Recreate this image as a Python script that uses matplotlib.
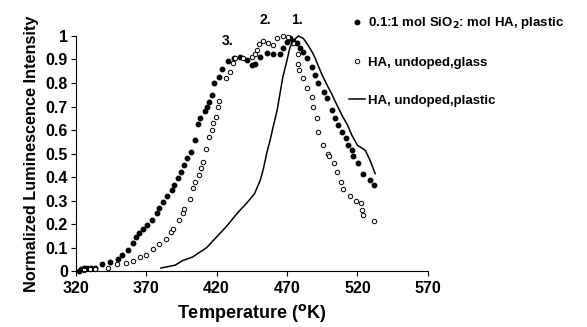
import matplotlib
matplotlib.use("Agg")
import matplotlib.pyplot as plt

plt.rcParams['font.family'] = ['Liberation Sans', 'DejaVu Sans']
plt.rcParams['font.weight'] = 'bold'

# 0.1:1 mol SiO2 : mol HA, plastic (filled dots)
t_sio2 = [322, 324, 326, 328, 331, 333.5, 338.5, 344, 350, 353,
          357, 360.5, 363, 365, 368, 370.5, 374, 377.5, 379, 382,
          385, 388, 390, 392.5, 395, 397, 399, 402, 405, 407,
          408, 412, 413, 414.5, 417, 418, 422, 424, 428, 432,
          436.5, 441.5, 445, 447, 451, 456, 460, 465, 467, 470,
          472, 474.5, 477, 479, 481.5, 484, 488, 490, 492, 496,
          498.5, 502, 504, 506, 509, 512, 513.5, 516, 517, 520.5,
          524, 529, 532]
i_sio2 = [0.0, 0.01, 0.013, 0.012, 0.013, 0.012, 0.03, 0.04, 0.05, 0.07,
          0.09, 0.12, 0.145, 0.16, 0.18, 0.195, 0.217, 0.245, 0.267, 0.293,
          0.32, 0.345, 0.365, 0.395, 0.42, 0.45, 0.48, 0.505, 0.557, 0.625,
          0.65, 0.68, 0.70, 0.72, 0.75, 0.80, 0.825, 0.86, 0.895, 0.905,
          0.91, 0.897, 0.876, 0.88, 0.91, 0.927, 0.925, 0.925, 0.95, 0.975,
          0.99, 0.98, 0.97, 0.95, 0.93, 0.905, 0.87, 0.833, 0.80, 0.76,
          0.735, 0.685, 0.65, 0.62, 0.59, 0.565, 0.535, 0.515, 0.49, 0.46,
          0.415, 0.387, 0.365]

# HA, undoped, glass (open circles)
t_glass = [326, 330, 334, 343, 349, 356, 360.5, 365.5, 370, 375,
           379, 384, 387.5, 389, 393, 396, 397, 401, 403, 405,
           407.5, 409, 410, 412.5, 414.5, 417, 417.5, 419.5, 421, 422,
           427, 429.5, 431.5, 433, 439, 445, 447, 448.5, 450, 453,
           456.5, 460, 463, 467, 471, 474.5, 478, 478, 478.5, 481.5,
           484, 488, 488.5, 491.5, 492, 495.5, 499, 500, 503, 505.5,
           508, 510, 515, 519, 522.5, 523.5, 524, 532]
i_glass = [0.005, 0.008, 0.01, 0.015, 0.03, 0.033, 0.045, 0.06, 0.068, 0.093,
           0.115, 0.136, 0.165, 0.18, 0.217, 0.247, 0.263, 0.305, 0.353, 0.38,
           0.408, 0.438, 0.465, 0.52, 0.57, 0.60, 0.63, 0.655, 0.70, 0.725,
           0.82, 0.845, 0.884, 0.905, 0.905, 0.91, 0.925, 0.94, 0.965, 0.98,
           0.97, 0.96, 0.99, 1.0, 0.995, 0.97, 0.925, 0.88, 0.855, 0.82,
           0.78, 0.74, 0.70, 0.65, 0.59, 0.535, 0.50, 0.49, 0.46, 0.42,
           0.38, 0.35, 0.32, 0.30, 0.29, 0.26, 0.24, 0.213]

# HA, undoped, plastic (solid line)
t_plastic = [380.5, 390.5, 396, 403, 413, 420, 427, 434.5, 441.5, 447,
             451, 453, 454.5, 455.5, 458, 460, 463, 465, 467, 470,
             472, 474.5, 478, 481.5, 485, 488, 490, 492, 495, 498.5,
             502, 505.5, 509, 513, 516, 520, 525.5, 529, 532.5]
i_plastic = [0.013, 0.025, 0.045, 0.06, 0.10, 0.145, 0.19, 0.245, 0.29, 0.33,
             0.387, 0.43, 0.47, 0.50, 0.557, 0.61, 0.685, 0.755, 0.825, 0.897,
             0.95, 0.98, 1.0, 0.99, 0.96, 0.93, 0.905, 0.875, 0.833, 0.79,
             0.75, 0.705, 0.663, 0.62, 0.578, 0.535, 0.514, 0.47, 0.415]

peak_labels = ['1.', '2.', '3.']
peak_pos = [(477, 1.067), (454.5, 1.067), (428, 0.98)]

fig = plt.figure(figsize=(5.87, 3.27), dpi=100)
ax = fig.add_axes([0.129, 0.171, 0.6, 0.719])

ax.plot(t_sio2, i_sio2, 'o', color='black', markersize=3.2, clip_on=False,
        label='0.1:1 mol SiO$_\\mathbf{2}$: mol HA, plastic')
ax.plot(t_glass, i_glass, 'o', markerfacecolor='white', markeredgecolor='black',
        markersize=3.2, markeredgewidth=0.7, clip_on=False,
        label='HA, undoped,glass')
ax.plot(t_plastic, i_plastic, '-', color='black', linewidth=1.1, clip_on=False,
        label='HA, undoped,plastic')

for lab, (tx, ty) in zip(peak_labels, peak_pos):
    ax.text(tx, ty, lab, ha='center', va='center', fontsize=10,
            fontweight='bold')

ax.set_xlim(320, 570)
ax.set_ylim(0, 1)
ax.set_xticks(range(320, 571, 50))
ax.set_yticks([i / 10 for i in range(11)])
ax.set_yticklabels(['0'] + ['0.%d' % i for i in range(1, 10)] + ['1'])
ax.tick_params(labelsize=11.5, direction='out', length=3.5, width=0.8, pad=2)
ax.tick_params(axis='x', pad=4)
for lbl in ax.get_xticklabels() + ax.get_yticklabels():
    lbl.set_fontweight('bold')

ax.spines['top'].set_visible(False)
ax.spines['right'].set_visible(False)

ax.set_xlabel('Temperature ($\\mathbf{^{o}}$K)', fontsize=13, fontweight='bold',
              labelpad=4)
ax.set_ylabel('Normalized Luminescence Intensity', fontsize=11.7,
              fontweight='bold', labelpad=5)

fig.legend(loc='upper left', bbox_to_anchor=(0.575, 0.99), frameon=False,
           handlelength=1.2, handletextpad=0.2, labelspacing=1.95,
           prop={'weight': 'bold', 'size': 9.5})

fig.savefig('out.png', dpi=100)
